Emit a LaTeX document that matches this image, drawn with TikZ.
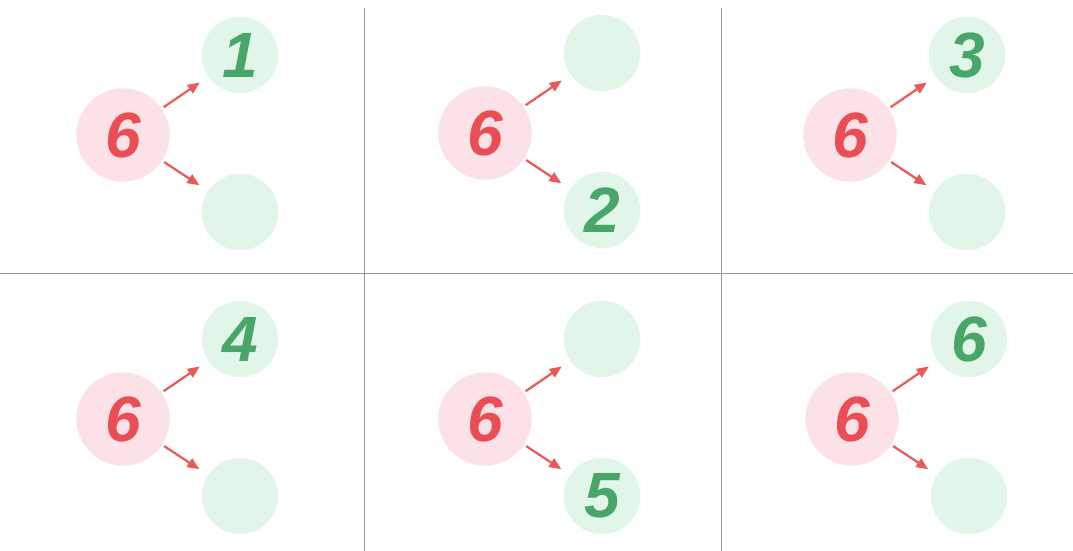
\documentclass[tikz,border=0pt]{standalone}
\usepackage{fontspec}
\setmainfont{Liberation Sans}
\usepackage{tikz}
\usetikzlibrary{arrows.meta,positioning}
\definecolor{wholefill}{RGB}{252,226,231}
\definecolor{wholetext}{RGB}{234,78,84}
\definecolor{partfill}{RGB}{226,245,233}
\definecolor{parttext}{RGB}{72,166,104}
\definecolor{arrowred}{RGB}{236,88,88}
\definecolor{gridgray}{RGB}{150,150,150}
\newcommand{\bondfont}{\fontsize{64}{64}\selectfont\bfseries\itshape}
\tikzset{
  bond/whole/.style={circle, fill=wholefill, draw=white, line width=1.5pt, minimum size=95pt, inner sep=0pt, text=wholetext, font=\bondfont},
  bond/part/.style={circle, fill=partfill, draw=white, line width=1.5pt, minimum size=78pt, inner sep=0pt, text=parttext, font=\bondfont},
  bond/arrow/.style={draw=arrowred, line width=2.2pt, -{Triangle[length=12pt,width=10pt]}, shorten <=1pt, shorten >=9pt},
  bond/grid/.style={draw=gridgray, line width=0.8pt}
}

\begin{document}
\begin{tikzpicture}[x=1pt, y=-1pt, node distance=80pt and 117pt, on grid]
  \useasboundingbox (0,0) rectangle (1073,551);

  % dividing lines
  \draw[bond/grid] (0,273) -- (1073,273);
  \draw[bond/grid] (364,8) -- (364,551);
  \draw[bond/grid] (721,8) -- (721,551);

  % top row
  \node[bond/whole] (six1) at (123,135) {6};
  \node[bond/part, above right=of six1] (up1) {1};
  \node[bond/part, below right=77pt and 117pt of six1] (down1) {};
  \draw[bond/arrow] (six1) -- (up1);
  \draw[bond/arrow] (six1) -- (down1);

  \node[bond/whole] (six2) at (485,133) {6};
  \node[bond/part, above right=of six2] (up2) {};
  \node[bond/part, below right=77pt and 117pt of six2] (down2) {2};
  \draw[bond/arrow] (six2) -- (up2);
  \draw[bond/arrow] (six2) -- (down2);

  \node[bond/whole] (six3) at (850,135) {6};
  \node[bond/part, above right=of six3] (up3) {3};
  \node[bond/part, below right=77pt and 117pt of six3] (down3) {};
  \draw[bond/arrow] (six3) -- (up3);
  \draw[bond/arrow] (six3) -- (down3);

  % bottom row
  \node[bond/whole] (six4) at (123,419) {6};
  \node[bond/part, above right=of six4] (up4) {4};
  \node[bond/part, below right=77pt and 117pt of six4] (down4) {};
  \draw[bond/arrow] (six4) -- (up4);
  \draw[bond/arrow] (six4) -- (down4);

  \node[bond/whole] (six5) at (485,419) {6};
  \node[bond/part, above right=of six5] (up5) {};
  \node[bond/part, below right=77pt and 117pt of six5] (down5) {5};
  \draw[bond/arrow] (six5) -- (up5);
  \draw[bond/arrow] (six5) -- (down5);

  \node[bond/whole] (six6) at (852,419) {6};
  \node[bond/part, above right=of six6] (up6) {6};
  \node[bond/part, below right=77pt and 117pt of six6] (down6) {};
  \draw[bond/arrow] (six6) -- (up6);
  \draw[bond/arrow] (six6) -- (down6);
\end{tikzpicture}
\end{document}
